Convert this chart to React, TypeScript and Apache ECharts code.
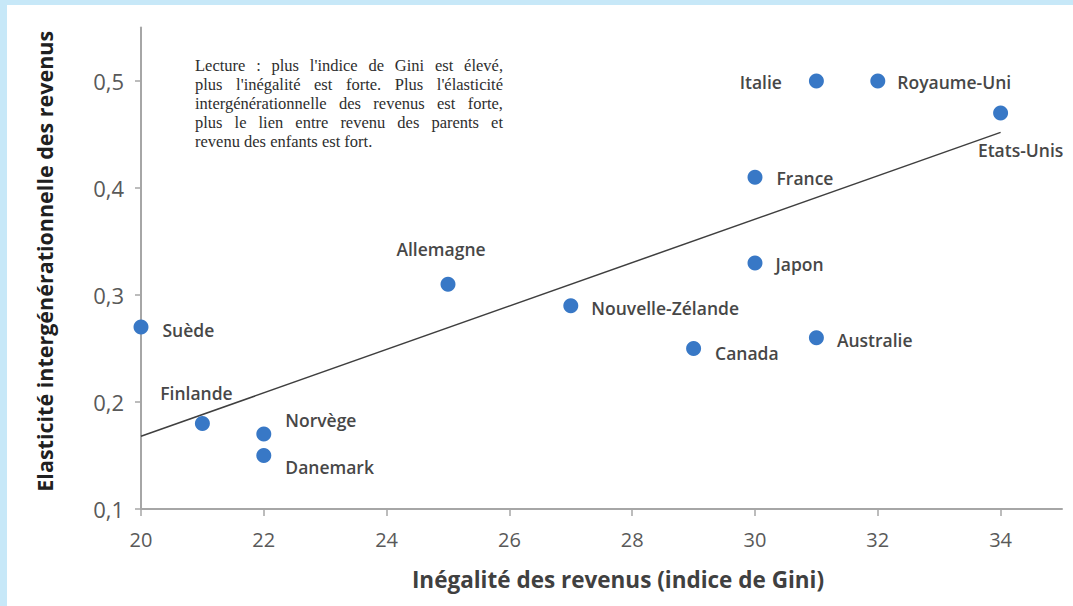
import React, { useEffect, useRef } from "react";
import * as echarts from "echarts";

const countries = [
  "Suède", "Finlande", "Norvège", "Danemark", "Allemagne", "Nouvelle-Zélande",
  "Canada", "Japon", "France", "Australie", "Italie", "Royaume-Uni", "Etats-Unis",
];
const gini = [20, 21, 22, 22, 25, 27, 29, 30, 30, 31, 31, 32, 34];
const elasticity = [0.27, 0.18, 0.17, 0.15, 0.31, 0.29, 0.25, 0.33, 0.41, 0.26, 0.5, 0.5, 0.47];
const trendX = [20, 34];
const trendY = [0.168, 0.452];
const xTicks = [20, 22, 24, 26, 28, 30, 32, 34];
const yTicks = [0.1, 0.2, 0.3, 0.4, 0.5];
const xTitle = "Inégalité des revenus (indice de Gini)";
const yTitle = "Elasticité intergénérationnelle des revenus";
const noteLines = [
  "Lecture : plus l'indice de Gini est élevé,",
  "plus l'inégalité est forte. Plus l'élasticité",
  "intergénérationnelle des revenus est forte,",
  "plus le lien entre revenu des parents et",
  "revenu des enfants est fort.",
];

// label placement (styling only)
const labelPlacement: Record<string, { position: string; offset: [number, number] }> = {
  "Suède": { position: "right", offset: [9, 3] },
  "Finlande": { position: "top", offset: [-6, -9] },
  "Norvège": { position: "right", offset: [9, -14] },
  "Danemark": { position: "right", offset: [9, 11] },
  "Allemagne": { position: "top", offset: [-7, -14] },
  "Nouvelle-Zélande": { position: "right", offset: [8, 2] },
  "Canada": { position: "right", offset: [9, 4] },
  "Japon": { position: "right", offset: [8, 1] },
  "France": { position: "right", offset: [9, 1] },
  "Australie": { position: "right", offset: [8, 2] },
  "Italie": { position: "left", offset: [-22, 1] },
  "Royaume-Uni": { position: "right", offset: [7, 1] },
  "Etats-Unis": { position: "bottom", offset: [20, 15] },
};

const FONT = "'Open Sans', 'Liberation Sans', sans-serif";
const NOTE_FONT_FAMILY = "'Liberation Serif', serif";
const NOTE_SIZE = 16.5;

function buildNote(x0: number, y0: number, width: number, lineH: number) {
  const ctx = document.createElement("canvas").getContext("2d")!;
  ctx.font = `${NOTE_SIZE}px ${NOTE_FONT_FAMILY}`;
  const spaceW = ctx.measureText(" ").width;
  const children: any[] = [];
  noteLines.forEach((line, i) => {
    const words = line.split(" ");
    const widths = words.map((w) => ctx.measureText(w).width);
    const total = widths.reduce((a, b) => a + b, 0);
    const last = i === noteLines.length - 1;
    const gap = last || words.length < 2 ? spaceW : (width - total) / (words.length - 1);
    let x = x0;
    words.forEach((w, j) => {
      children.push({
        type: "text",
        x,
        y: y0 + i * lineH,
        silent: true,
        style: {
          text: w,
          font: `${NOTE_SIZE}px ${NOTE_FONT_FAMILY}`,
          fill: "#2e2e2e",
          verticalAlign: "middle",
        },
      });
      x += widths[j] + gap;
    });
  });
  return children;
}

export default function App() {
  const ref = useRef<HTMLDivElement>(null);
  useEffect(() => {
    if (!ref.current) return;
    const chart = echarts.init(ref.current, null, { renderer: "svg" });
    const points = countries.map((c, i) => ({
      name: c,
      value: [gini[i], elasticity[i]],
      label: {
        show: true,
        formatter: c,
        position: labelPlacement[c].position,
        offset: labelPlacement[c].offset,
      },
    }));
    const option: any = {
      animation: false,
      backgroundColor: "#c7e8f8",
      grid: { left: 141, right: 11, top: 27.5, bottom: 97 },
      graphic: [
        {
          type: "rect",
          z: -10,
          silent: true,
          shape: { x: 7, y: 5, width: 1066, height: 601 },
          style: { fill: "#ffffff" },
        },
        ...buildNote(195, 65, 308, 19),
      ],
      xAxis: {
        type: "value",
        min: 20,
        max: 35,
        interval: 2,
        name: xTitle,
        nameLocation: "middle",
        nameGap: 59,
        nameTextStyle: {
          fontFamily: FONT,
          fontWeight: "bold",
          fontSize: 22.5,
          color: "#404040",
          padding: [0, 0, 0, 33],
        },
        splitLine: { show: false },
        axisLine: { show: true, onZero: false, lineStyle: { color: "#a6a6a6", width: 2 } },
        axisTick: { show: true, length: 7, customValues: xTicks, lineStyle: { color: "#a6a6a6", width: 1.5 } },
        axisLabel: {
          customValues: xTicks,
          margin: 20,
          fontFamily: FONT,
          fontSize: 20,
          color: "#595959",
        },
      },
      yAxis: {
        type: "value",
        min: 0.1,
        max: 0.55,
        interval: 0.1,
        name: yTitle,
        nameLocation: "middle",
        nameRotate: 90,
        nameGap: 86,
        nameTextStyle: {
          fontFamily: FONT,
          fontWeight: "bold",
          fontSize: 21.5,
          color: "#202020",
          padding: [0, 0, 0, 14],
        },
        splitLine: { show: false },
        axisLine: { show: true, onZero: false, lineStyle: { color: "#a6a6a6", width: 2 } },
        axisTick: { show: true, length: 6, customValues: yTicks, lineStyle: { color: "#a6a6a6", width: 1.5 } },
        axisLabel: {
          customValues: yTicks,
          margin: 17,
          fontFamily: FONT,
          fontSize: 22,
          color: "#595959",
          formatter: (v: number) => v.toFixed(1).replace(".", ","),
        },
      },
      series: [
        {
          type: "line",
          data: trendX.map((x, i) => [x, trendY[i]]),
          symbol: "none",
          lineStyle: { color: "#3f3f3f", width: 1.5 },
          silent: true,
          z: 1,
        },
        {
          type: "scatter",
          data: points,
          symbolSize: 15,
          itemStyle: { color: "#3878c6", opacity: 1 },
          label: {
            fontFamily: FONT,
            fontSize: 17.5,
            fontWeight: 600,
            color: "#474747",
          },
          z: 3,
        },
      ],
    };
    chart.setOption(option);
    return () => chart.dispose();
  }, []);
  return (
    <div style={{ position: "fixed", left: 0, top: 0, width: 1073, height: 606 }}>
      <div ref={ref} style={{ width: 1073, height: 606 }} />
    </div>
  );
}
